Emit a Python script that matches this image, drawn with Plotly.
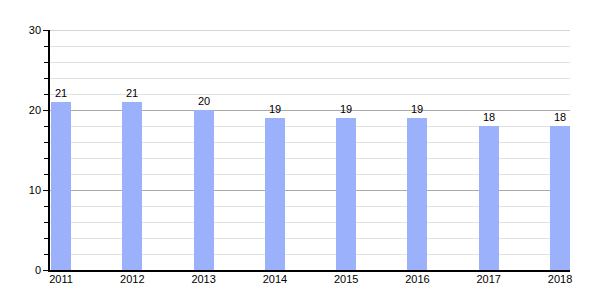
import plotly.graph_objects as go

years = ["2011", "2012", "2013", "2014", "2015", "2016", "2017", "2018"]
values = [21, 21, 20, 19, 19, 19, 18, 18]
y_max = 30

fig = go.Figure()
fig.add_trace(go.Bar(
    x=list(range(len(years))), y=values,
    marker=dict(color="#9bb1fc", line=dict(width=0)),
    width=0.28,
    text=[str(v) for v in values], textposition="outside",
    textfont=dict(size=11, color="#000", family="Liberation Sans, Arial, sans-serif"),
    cliponaxis=False,
))

fig.add_shape(type="line", xref="paper", yref="y", x0=0, x1=1, y0=y_max, y1=y_max,
              line=dict(color="#aaaaaa", width=1), layer="below")

fig.update_layout(
    width=600, height=300,
    margin=dict(l=50, r=30, t=30, b=30),
    plot_bgcolor="#fff", paper_bgcolor="#fff",
    showlegend=False,
    font=dict(family="Liberation Sans, Arial, sans-serif", size=11, color="#000"),
    bargap=0,
)
fig.update_xaxes(
    range=[-0.155, 7.14],
    tickmode="array", tickvals=list(range(len(years))), ticktext=years,
    showgrid=False, zeroline=False,
    showline=True, linecolor="#000", linewidth=1.5,
    ticks="", ticklen=0, ticklabelstandoff=-2,
    tickfont=dict(size=11, color="#000"),
)
fig.update_yaxes(
    range=[0, y_max], dtick=10, tick0=0,
    showgrid=True, gridcolor="#aaaaaa", gridwidth=1,
    zeroline=False,
    showline=True, linecolor="#000", linewidth=1.5,
    ticks="outside", ticklen=5, tickcolor="#000",
    tickfont=dict(size=11, color="#000"),
    minor=dict(dtick=2, tick0=0, showgrid=True, gridcolor="#e2e2e2", gridwidth=1,
               ticks="outside", ticklen=4, tickcolor="#000"),
)

fig.write_html("out.html")
